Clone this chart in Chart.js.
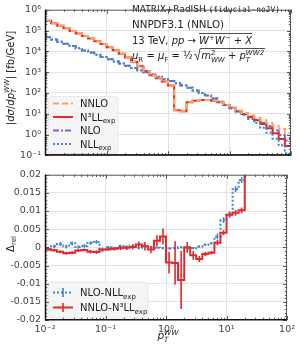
<!DOCTYPE html>
<html>
<head>
<meta charset="utf-8">
<script src="https://cdn.jsdelivr.net/npm/chart.js@4.4.1/dist/chart.umd.min.js"></script>
<style>
html, body { margin: 0; padding: 0; background: #fff; }
#wrap { position: relative; width: 299px; height: 346px; overflow: hidden; }
canvas { position: absolute; left: 0; }
#c1 { top: 0; }
#c2 { top: 165px; }
</style>
</head>
<body>
<div id="wrap">
  <canvas id="c1" width="299" height="165"></canvas>
  <canvas id="c2" width="299" height="181"></canvas>
</div>
<script>
// bin edges of p_T^WW [GeV]
var binEdges = [0.01, 0.0126, 0.0158, 0.02, 0.0251, 0.0316, 0.0398, 0.0501, 0.0631, 0.0794,
  0.1, 0.126, 0.158, 0.2, 0.251, 0.316, 0.398, 0.501, 0.631, 0.794,
  1, 1.26, 1.58, 2, 2.51, 3.16, 3.98, 5.01, 6.31, 7.94,
  10, 12.6, 15.8, 20, 25.1, 31.6, 39.8, 50.1, 63.1, 79.4, 100];

// |dsigma/dpT| [fb/GeV]
var nnlo = [295000, 224000, 170000, 129000, 95500, 72400, 53700, 40700, 30200, 22400,
  15800, 11200, 7590, 5010, 3160, 1910, 1120, 708, 501, 355,
  224, 14.5, 13.2, 35.5, 41.7, 45.7, 45.7, 41.7, 35.5, 26.3,
  19.1, 14.1, 10.7, 8.32, 6.31, 4.79, 3.55, 2.63, 1.82, 1.20];
var n3ll = [295000, 224000, 170000, 129000, 95500, 72400, 53700, 40700, 30200, 22400,
  15800, 11200, 7590, 5010, 3160, 1910, 1120, 708, 501, 355,
  224, 14.5, 13.2, 35.5, 41.7, 45.7, 45.7, 41.7, 35.5, 26.3,
  19.1, 13.2, 9.55, 6.92, 4.79, 3.16, 2.00, 1.15, 0.603, 0.282];
var nlo = [46800, 37200, 28800, 22900, 17800, 14100, 11000, 8710, 6760, 5370,
  4170, 3240, 2570, 2000, 1580, 1230, 977, 759, 603, 468,
  372, 288, 229, 178, 132, 100, 74.1, 53.7, 38.0, 26.3,
  18.2, 13.2, 9.77, 7.24, 5.25, 3.72, 2.51, 1.58, 0.955, 0.501];
var nll = [46800, 37200, 28800, 22900, 17800, 14100, 11000, 8710, 6760, 5370,
  4170, 3240, 2570, 2000, 1580, 1230, 977, 759, 603, 468,
  372, 288, 229, 178, 132, 100, 74.1, 53.7, 38.0, 26.3,
  18.2, 12.6, 8.51, 5.62, 3.55, 2.14, 1.20, 0.631, 0.302, 0.126];

// relative differences, lower panel
var dNloNll = [-0.0005, 0.0003, 0.0009, 0.0002, 0.0011, 0.0001, 0.0004, 0.0012, 0.0015, -0.0008,
  0.0000, -0.0003, 0.0004, 0.0001, 0.0005, -0.0002, 0.0003, 0.0000, -0.0001, -0.0002,
  -0.0003, -0.0002, 0.0000, -0.0003, -0.0002, 0.0002, 0.0007, 0.0011, 0.0030, 0.0075,
  0.0090, 0.0160, 0.0185, 0.0300];
var errNloNll = [0.0005, 0.0005, 0.0005, 0.0005, 0.0005, 0.0005, 0.0005, 0.0005, 0.0005, 0.0005,
  0.0003, 0.0003, 0.0003, 0.0003, 0.0003, 0.0003, 0.0003, 0.0003, 0.0003, 0.0003,
  0.0003, 0.0003, 0.0003, 0.0003, 0.0003, 0.0003, 0.0003, 0.0004, 0.0008, 0.0008,
  0.0008, 0.0008, 0.0008, 0];
var dNnloN3ll = [-0.0005, -0.0008, -0.0012, -0.0016, -0.0015, -0.0009, -0.0007, -0.0012, -0.0013, -0.0006,
  -0.0005, -0.0004, -0.0002, -0.0001, 0.0001, 0.0008, 0.0003, -0.0006, 0.0018, 0.0030,
  -0.0042, -0.0043, -0.0090, 0.0000, -0.0022, -0.0032, -0.0018, -0.0015, 0.0013, 0.0040,
  0.0090, 0.0095, 0.0102, 0.0300];
var errNnloN3ll = [0.0004, 0.0004, 0.0004, 0.0004, 0.0004, 0.0004, 0.0004, 0.0005, 0.0005, 0.0005,
  0.0005, 0.0005, 0.0006, 0.0006, 0.0007, 0.0008, 0.0012, 0.0010, 0.0015, 0.0022,
  0.0030, 0.0060, 0.0080, 0.0015, 0.0012, 0.0008, 0.0006, 0.0005, 0.0007, 0.0007,
  0.0008, 0.0008, 0.0008, 0];

var xTicks = [0.01, 0.1, 1, 10, 100];
var xTickLabels = ['10⁻²', '10⁻¹', '10⁰', '10¹', '10²'];
var yTicksTop = [0.1, 1, 10, 100, 1000, 10000, 100000, 1000000];
var yTickLabelsTop = ['10⁻¹', '10⁰', '10¹', '10²', '10³', '10⁴', '10⁵', '10⁶'];
var yTicksBot = [-0.02, -0.015, -0.01, -0.005, 0, 0.005, 0.01, 0.015, 0.02];
var yTickLabelsBot = ['-0.02', '-0.015', '-0.01', '-0.005', '0', '0.005', '0.01', '0.015', '0.02'];

var colOrange = '#fca35d', colRed = '#e4292a', colPurple = '#7a6cc0', colBlue = '#3b86cf';
var FONT = '"DejaVu Sans"';

function steps(vals) {
  var pts = vals.map(function (v, i) { return { x: binEdges[i], y: v }; });
  pts.push({ x: binEdges[vals.length], y: vals[vals.length - 1] });
  return pts;
}
function ds(label, vals, color, dash, w) {
  return { label: label, data: steps(vals), borderColor: color, borderWidth: w || 2,
    borderDash: dash, stepped: true, pointRadius: 0, fill: false };
}
function gridCol(ctx) {
  var n = ctx.scale.ticks.length;
  return (ctx.index === 0 || ctx.index === n - 1) ? 'rgba(0,0,0,0)' : '#e3e3e3';
}
function tickFont() { return { family: 'DejaVu Sans', size: 9.5 }; }

// text with italic / sub / sup pieces: i italic, b sub, p sup, m mono, n no advance
function rich(c, x, y, parts, size, dry) {
  var cx = x;
  parts.forEach(function (p) {
    var k = p[1], fs = size, dy = 0;
    if (k.indexOf('b') >= 0) { fs = size * 0.7; dy = size * 0.28; }
    if (k.indexOf('p') >= 0) { fs = size * 0.7; dy = -size * 0.42; }
    if (k.indexOf('m') >= 0) fs = size * 0.88;
    c.font = (k.indexOf('i') >= 0 ? 'italic ' : '') + fs + 'px ' + (k.indexOf('m') >= 0 ? '"DejaVu Sans Mono"' : FONT);
    if (!dry) c.fillText(p[0], cx, y + dy);
    if (k.indexOf('n') < 0) cx += c.measureText(p[0]).width;
  });
  return cx;
}

function logMarks(decades) {
  var out = [];
  for (var i = 0; i < decades.length - 1; i++) {
    for (var m = 1; m <= 9; m++) out.push({ v: m * decades[i], major: m === 1 });
  }
  out.push({ v: decades[decades.length - 1], major: true });
  return out;
}
var xMarks = logMarks(xTicks);
var yMarksTop = logMarks(yTicksTop);
var yMarksBot = [];
for (var i = -20; i <= 20; i++) yMarksBot.push({ v: i / 1000, major: i % 5 === 0 });

function framePlugin(yMarks) {
  return {
    id: 'frame',
    afterDraw: function (chart) {
      var c = chart.ctx, a = chart.chartArea, sx = chart.scales.x, sy = chart.scales.y;
      c.save();
      c.setLineDash([]);
      c.strokeStyle = '#333';
      c.lineWidth = 0.8;
      c.beginPath();
      xMarks.forEach(function (t) {
        var px = Math.round(sx.getPixelForValue(t.v)) + 0.5, L = t.major ? 4 : 2.2;
        c.moveTo(px, a.bottom); c.lineTo(px, a.bottom - L);
        c.moveTo(px, a.top); c.lineTo(px, a.top + L);
      });
      yMarks.forEach(function (t) {
        var py = Math.round(sy.getPixelForValue(t.v)) + 0.5, L = t.major ? 4 : 2.2;
        c.moveTo(a.left, py); c.lineTo(a.left + L, py);
        c.moveTo(a.right, py); c.lineTo(a.right - L, py);
      });
      c.stroke();
      c.strokeStyle = '#555';
      c.lineWidth = 1;
      c.strokeRect(a.left + 0.5, a.top + 0.5, a.right - a.left - 1, a.bottom - a.top - 1);
      c.strokeStyle = '#111';
      c.lineWidth = 1.5;
      c.beginPath();
      c.moveTo(a.left + 0.5, a.top); c.lineTo(a.left + 0.5, a.bottom - 0.25); c.lineTo(a.right, a.bottom - 0.25);
      c.stroke();
      c.restore();
    }
  };
}

function legendBox(c, x, y, w, h) {
  c.beginPath();
  c.roundRect(x, y, w, h, 3);
  c.fillStyle = 'rgba(244,244,244,0.88)';
  c.fill();
  c.strokeStyle = '#e2e2e2';
  c.lineWidth = 0.8;
  c.stroke();
}

var topText = {
  id: 'topText',
  afterDatasetsDraw: function (chart) {
    var c = chart.ctx;
    c.save();
    c.fillStyle = '#222';
    c.textBaseline = 'alphabetic';
    rich(c, 132, 12, [['MATRIX+RadISH ', ''], ['(fiducial-noJV)', 'm']], 9);
    rich(c, 132, 27.5, [['NNPDF3.1 (NNLO)', '']], 10.3);
    var xw = rich(c, 132, 44, [['13 TeV, ', ''], ['pp', 'i'], [' → ', '']], 10);
    var xe = rich(c, xw, 44, [['W', 'i'], ['+', 'p'], ['W', 'i'], ['−', 'p'], [' + ', ''], ['X', 'i']], 10);
    c.strokeStyle = '#222';
    c.lineWidth = 0.8;
    c.beginPath(); c.moveTo(xw, 33.5); c.lineTo(xe, 33.5); c.stroke();
    var xr = rich(c, 132, 59, [['μ', 'i'], ['R', 'b'], [' = ', ''], ['μ', 'i'], ['F', 'b'], [' = ', ''], ['½', ''], ['  ', '']], 10);
    var xs = rich(c, xr + 2, 59, [['m', 'i'], ['2', 'pn'], ['WW', 'ib'], [' + ', ''], ['p', 'i'], ['T', 'ibn'], ['WW2', 'ip']], 10);
    c.beginPath();
    c.moveTo(xr - 5, 55); c.lineTo(xr - 3.5, 54); c.lineTo(xr - 1.5, 60); c.lineTo(xr + 1, 48.5); c.lineTo(xs + 1, 48.5);
    c.stroke();

    // y axis title
    c.save();
    c.translate(13.5, 78);
    c.rotate(-Math.PI / 2);
    var yt = [['|', ''], ['dσ', 'i'], ['/', ''], ['dp', 'i'], ['T', 'ibn'], ['WW', 'ip'], ['| [fb/GeV]', '']];
    var w = rich(c, 0, 0, yt, 10, true);
    rich(c, -w / 2, 0, yt, 10);
    c.restore();

    // legend
    legendBox(c, 48, 96.5, 70, 57);
    var rows = [
      { parts: [['NNLO', '']], color: colOrange, dash: [6, 3] },
      { parts: [['N³LL', ''], ['exp', 'b']], color: colRed, dash: [] },
      { parts: [['NLO', '']], color: colPurple, dash: [6, 2, 2, 2] },
      { parts: [['NLL', ''], ['exp', 'b']], color: colBlue, dash: [2, 2] }
    ];
    rows.forEach(function (r, i) {
      var yc = 103.5 + i * 13.5;
      c.strokeStyle = r.color;
      c.lineWidth = 2;
      c.setLineDash(r.dash);
      c.beginPath(); c.moveTo(53, yc); c.lineTo(73, yc); c.stroke();
      c.setLineDash([]);
      c.fillStyle = '#222';
      rich(c, 80, yc + 3.6, r.parts, 10);
    });
    c.restore();
  }
};

function drawErr(c, chart, vals, errs, color) {
  var sx = chart.scales.x, sy = chart.scales.y;
  c.strokeStyle = color;
  c.lineWidth = 1.6;
  c.setLineDash([]);
  c.beginPath();
  vals.forEach(function (v, i) {
    if (!errs[i]) return;
    var xc = sx.getPixelForValue(Math.sqrt(binEdges[i] * binEdges[i + 1]));
    c.moveTo(xc, sy.getPixelForValue(v - errs[i]));
    c.lineTo(xc, sy.getPixelForValue(v + errs[i]));
  });
  c.stroke();
}

var botText = {
  id: 'botText',
  afterDatasetsDraw: function (chart) {
    var c = chart.ctx, a = chart.chartArea;
    c.save();
    c.beginPath();
    c.rect(a.left, a.top, a.right - a.left, a.bottom - a.top);
    c.clip();
    drawErr(c, chart, dNloNll, errNloNll, colBlue);
    drawErr(c, chart, dNnloN3ll, errNnloN3ll, colRed);
    c.restore();

    c.save();
    c.fillStyle = '#222';
    // legend
    legendBox(c, 48, 117, 100, 36);
    var rows = [
      { parts: [['NLO-NLL', ''], ['exp', 'b']], color: colBlue, dash: [2, 2] },
      { parts: [['NNLO-N³LL', ''], ['exp', 'b']], color: colRed, dash: [] }
    ];
    rows.forEach(function (r, i) {
      var yc = 127.5 + i * 15;
      c.strokeStyle = r.color;
      c.lineWidth = 2;
      c.setLineDash(r.dash);
      c.beginPath(); c.moveTo(53, yc); c.lineTo(73, yc); c.stroke();
      c.setLineDash([]);
      c.lineWidth = 1.6;
      c.beginPath(); c.moveTo(63, yc - 4.5); c.lineTo(63, yc + 4.5); c.stroke();
      c.fillStyle = '#222';
      rich(c, 80, yc + 3.6, r.parts, 10);
    });

    // axis titles
    c.save();
    c.translate(13.5, 79);
    c.rotate(-Math.PI / 2);
    var dt = [['Δ', ''], ['rel', 'b']];
    var w = rich(c, 0, 0, dt, 10, true);
    rich(c, -w / 2, 0, dt, 10);
    c.restore();
    var xt = [['p', 'i'], ['T', 'ibn'], ['WW', 'ip']];
    var wx = rich(c, 0, 0, xt, 10.5, true);
    rich(c, 168 - wx / 2, 174, xt, 10.5);
    c.restore();
  }
};

new Chart(document.getElementById('c1'), {
  type: 'line',
  data: {
    datasets: [
      ds('NNLO', nnlo, colOrange, [6, 3]),
      ds('NLL_exp', nll, colBlue, [2, 2]),
      ds('N3LL_exp', n3ll, colRed, []),
      ds('NLO', nlo, colPurple, [6, 2, 2, 2])
    ]
  },
  options: {
    responsive: false,
    animation: false,
    devicePixelRatio: 1,
    layout: { padding: { top: 4, right: 8, left: 0, bottom: 0 } },
    plugins: { legend: { display: false }, tooltip: { enabled: false } },
    scales: {
      x: {
        type: 'logarithmic', min: 0.01, max: 100,
        afterBuildTicks: function (s) { s.ticks = xTicks.map(function (v) { return { value: v }; }); },
        afterFit: function (s) { s.height = 8; },
        ticks: { display: false },
        grid: { drawTicks: false, color: gridCol },
        border: { display: false }
      },
      y: {
        type: 'logarithmic', min: 0.1, max: 1000000,
        afterBuildTicks: function (s) { s.ticks = yTicksTop.map(function (v) { return { value: v }; }); },
        afterFit: function (s) { s.width = 45; },
        ticks: { autoSkip: false, padding: 4, color: '#444', font: tickFont(),
          callback: function (v, i) { return yTickLabelsTop[i]; } },
        grid: { drawTicks: false, color: gridCol },
        border: { display: false }
      }
    }
  },
  plugins: [topText, framePlugin(yMarksTop)]
});

new Chart(document.getElementById('c2'), {
  type: 'line',
  data: {
    datasets: [
      ds('NNLO-N3LL_exp', dNnloN3ll, colRed, []),
      ds('NLO-NLL_exp', dNloNll, colBlue, [2, 2])
    ]
  },
  options: {
    responsive: false,
    animation: false,
    devicePixelRatio: 1,
    layout: { padding: { top: 3, right: 8, left: 0, bottom: 0 } },
    plugins: { legend: { display: false }, tooltip: { enabled: false } },
    scales: {
      x: {
        type: 'logarithmic', min: 0.01, max: 100,
        afterBuildTicks: function (s) { s.ticks = xTicks.map(function (v) { return { value: v }; }); },
        afterFit: function (s) { s.height = 26; },
        ticks: { autoSkip: false, maxRotation: 0, padding: 4, color: '#444', font: tickFont(),
          callback: function (v, i) { return xTickLabels[i]; } },
        grid: { drawTicks: false, color: gridCol },
        border: { display: false }
      },
      y: {
        type: 'linear', min: -0.02, max: 0.02,
        afterBuildTicks: function (s) { s.ticks = yTicksBot.map(function (v) { return { value: v }; }); },
        afterFit: function (s) { s.width = 45; },
        ticks: { autoSkip: false, padding: 4, color: '#444', font: tickFont(),
          callback: function (v, i) { return yTickLabelsBot[i]; } },
        grid: { drawTicks: false, color: gridCol },
        border: { display: false }
      }
    }
  },
  plugins: [botText, framePlugin(yMarksBot)]
});
</script>
</body>
</html>
